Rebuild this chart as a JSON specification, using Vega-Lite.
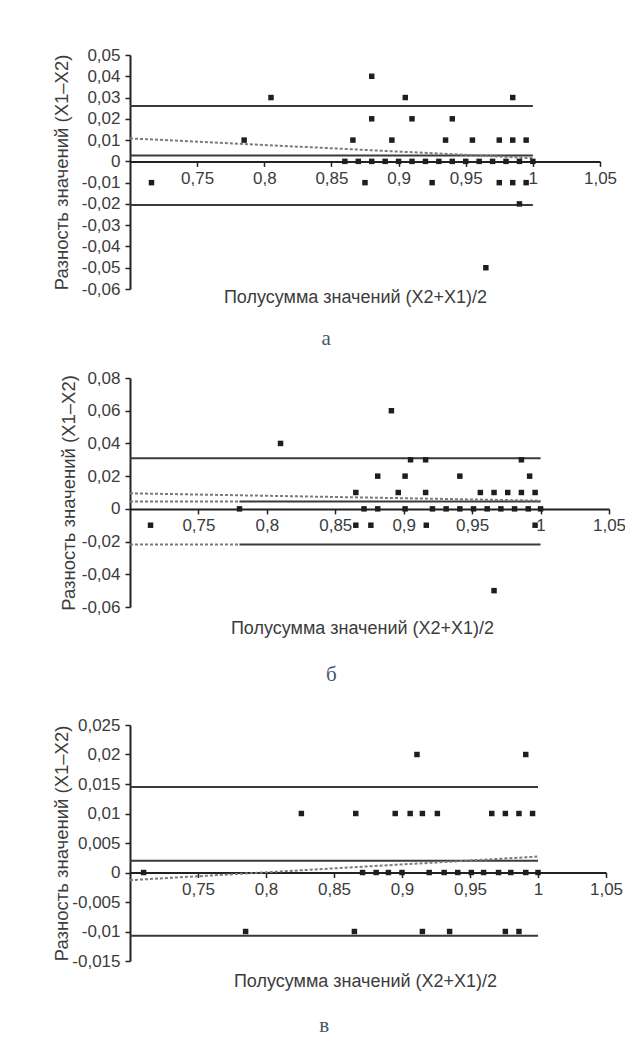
{
  "$schema": "https://vega.github.io/schema/vega-lite/v6.json",
  "background": "white",
  "padding": {"left": 51, "top": 46, "right": 2, "bottom": 5},
  "config": {"view": {"stroke": null}, "font": "Liberation Sans"},
  "spacing": 31,
  "vconcat": [
    {
      "spacing": 20,
      "vconcat": [
        {
          "width": 470,
          "height": 234,
          "title": {"text": "а", "orient": "bottom", "anchor": "middle", "frame": "bounds", "offset": 22, "dx": -8, "font": "Liberation Serif", "fontSize": 21, "fontWeight": "normal", "color": "#45566a"},
          "encoding": {
            "x": {"field": "x", "type": "quantitative", "scale": {"domain": [0.7, 1.05], "nice": false, "zero": false},
              "axis": {"orient": "bottom", "offset": -127.6, "values": [0.75, 0.8, 0.85, 0.9, 0.95, 1, 1.05], "labelExpr": "replace(replace(format(datum.value,'~g'),'.',','),'\u2212','-')", "grid": false, "domainColor": "#222", "domainWidth": 2, "tickColor": "#222", "tickWidth": 1.5, "tickSize": 5, "labelPadding": 4, "labelFontSize": 17, "labelColor": "#3c3c3c", "labelFlush": false, "labelFont": "Liberation Sans", "title": "Полусумма значений (X2+X1)/2", "titleFont": "Liberation Sans", "titleFontSize": 18, "titleFontWeight": "normal", "titleColor": "#3c3c3c", "titleX": 225, "titleY": 135.6, "titleBaseline": "middle", "titleAlign": "center"}},
            "y": {"field": "y", "type": "quantitative", "scale": {"domain": [-0.06, 0.05], "nice": false, "zero": false},
              "axis": {"values": [-0.06, -0.05, -0.04, -0.03, -0.02, -0.01, 0, 0.01, 0.02, 0.03, 0.04, 0.05], "labelExpr": "replace(replace(format(datum.value,'~g'),'.',','),'\u2212','-')", "grid": false, "domainColor": "#222", "domainWidth": 2, "tickColor": "#222", "tickWidth": 1.5, "tickSize": 5, "labelPadding": 5, "labelFontSize": 17, "labelColor": "#3c3c3c", "labelFont": "Liberation Sans", "title": "Разность значений (X1–X2)", "titleFont": "Liberation Sans", "titleFontSize": 18.5, "titleFontWeight": "normal", "titleColor": "#3c3c3c", "titlePadding": 0, "minExtent": 59, "maxExtent": 59}}
          },
          "layer": [
            {"data": {"values": [
              {"x": 0.7, "x2": 1.0, "y": 0.026, "y2": 0.026},
              {"x": 0.7, "x2": 1.0, "y": 0.0028, "y2": 0.0028},
              {"x": 0.7, "x2": 1.0, "y": -0.0205, "y2": -0.0205}
            ]}, "mark": {"type": "rule", "strokeWidth": 2, "color": "#3a3a3a"}, "encoding": {"x2": {"field": "x2"}, "y2": {"field": "y2"}}},
            {"data": {"values": [
              {"x": 0.7, "x2": 1.0, "y": 0.0108, "y2": 0.0015}
            ]}, "mark": {"type": "rule", "strokeWidth": 2, "strokeDash": [3, 2], "color": "#7a7a7a"}, "encoding": {"x2": {"field": "x2"}, "y2": {"field": "y2"}}},
            {"data": {"values": [
              {"x": 0.716, "y": -0.01}, {"x": 0.785, "y": 0.01}, {"x": 0.805, "y": 0.03}, {"x": 0.866, "y": 0.01}, {"x": 0.875, "y": -0.01},
              {"x": 0.88, "y": 0.04}, {"x": 0.88, "y": 0.02}, {"x": 0.895, "y": 0.01}, {"x": 0.905, "y": 0.03}, {"x": 0.91, "y": 0.02},
              {"x": 0.925, "y": -0.01}, {"x": 0.935, "y": 0.01}, {"x": 0.94, "y": 0.02}, {"x": 0.955, "y": 0.01}, {"x": 0.965, "y": -0.05},
              {"x": 0.975, "y": 0.01}, {"x": 0.975, "y": -0.01}, {"x": 0.985, "y": 0.03}, {"x": 0.985, "y": 0.01}, {"x": 0.985, "y": -0.01},
              {"x": 0.99, "y": -0.02}, {"x": 0.995, "y": 0.01}, {"x": 0.995, "y": -0.01},
              {"x": 0.86, "y": 0}, {"x": 0.87, "y": 0}, {"x": 0.88, "y": 0}, {"x": 0.89, "y": 0}, {"x": 0.90, "y": 0},
              {"x": 0.91, "y": 0}, {"x": 0.92, "y": 0}, {"x": 0.93, "y": 0}, {"x": 0.94, "y": 0}, {"x": 0.95, "y": 0},
              {"x": 0.96, "y": 0}, {"x": 0.97, "y": 0}, {"x": 0.98, "y": 0}, {"x": 0.99, "y": 0}, {"x": 1.0, "y": 0}
            ]}, "mark": {"type": "point", "shape": "square", "filled": true, "size": 30, "color": "#1e1e1e", "opacity": 1}}
          ]
        },
        {
          "width": 479,
          "height": 229,
          "title": {"text": "б", "orient": "bottom", "anchor": "middle", "frame": "bounds", "offset": 26, "dx": -11, "font": "Liberation Serif", "fontSize": 21, "fontWeight": "normal", "color": "#45566a"},
          "encoding": {
            "x": {"field": "x", "type": "quantitative", "scale": {"domain": [0.7, 1.05], "nice": false, "zero": false},
              "axis": {"orient": "bottom", "offset": -98.1, "values": [0.75, 0.8, 0.85, 0.9, 0.95, 1, 1.05], "labelExpr": "replace(replace(format(datum.value,'~g'),'.',','),'\u2212','-')", "grid": false, "domainColor": "#222", "domainWidth": 2, "tickColor": "#222", "tickWidth": 1.5, "tickSize": 5, "labelPadding": 4, "labelFontSize": 17, "labelColor": "#3c3c3c", "labelFlush": false, "labelFont": "Liberation Sans", "title": "Полусумма значений (X2+X1)/2", "titleFont": "Liberation Sans", "titleFontSize": 18, "titleFontWeight": "normal", "titleColor": "#3c3c3c", "titleX": 232, "titleY": 120, "titleBaseline": "middle", "titleAlign": "center"}},
            "y": {"field": "y", "type": "quantitative", "scale": {"domain": [-0.06, 0.08], "nice": false, "zero": false},
              "axis": {"values": [-0.06, -0.04, -0.02, 0, 0.02, 0.04, 0.06, 0.08], "labelExpr": "replace(replace(format(datum.value,'~g'),'.',','),'\u2212','-')", "grid": false, "domainColor": "#222", "domainWidth": 2, "tickColor": "#222", "tickWidth": 1.5, "tickSize": 5, "labelPadding": 5, "labelFontSize": 17, "labelColor": "#3c3c3c", "labelFont": "Liberation Sans", "title": "Разность значений (X1–X2)", "titleFont": "Liberation Sans", "titleFontSize": 18.5, "titleFontWeight": "normal", "titleColor": "#3c3c3c", "titlePadding": 0, "minExtent": 52, "maxExtent": 52}}
          },
          "layer": [
            {"data": {"values": [
              {"x": 0.7, "x2": 1.0, "y": 0.031, "y2": 0.031},
              {"x": 0.78, "x2": 1.0, "y": 0.0045, "y2": 0.0045},
              {"x": 0.78, "x2": 1.0, "y": -0.0218, "y2": -0.0218}
            ]}, "mark": {"type": "rule", "strokeWidth": 2, "color": "#3a3a3a"}, "encoding": {"x2": {"field": "x2"}, "y2": {"field": "y2"}}},
            {"data": {"values": [
              {"x": 0.7, "x2": 1.0, "y": 0.0095, "y2": 0.005},
              {"x": 0.7, "x2": 0.78, "y": 0.0045, "y2": 0.0045},
              {"x": 0.7, "x2": 0.78, "y": -0.0218, "y2": -0.0218}
            ]}, "mark": {"type": "rule", "strokeWidth": 2, "strokeDash": [3, 2], "color": "#7a7a7a"}, "encoding": {"x2": {"field": "x2"}, "y2": {"field": "y2"}}},
            {"data": {"values": [
              {"x": 0.715, "y": -0.01}, {"x": 0.865, "y": -0.01}, {"x": 0.876, "y": -0.01}, {"x": 0.9165, "y": -0.01}, {"x": 0.996, "y": -0.01},
              {"x": 0.78, "y": 0}, {"x": 0.871, "y": 0}, {"x": 0.881, "y": 0}, {"x": 0.901, "y": 0}, {"x": 0.921, "y": 0}, {"x": 0.931, "y": 0},
              {"x": 0.941, "y": 0}, {"x": 0.951, "y": 0}, {"x": 0.961, "y": 0}, {"x": 0.971, "y": 0}, {"x": 0.981, "y": 0}, {"x": 0.991, "y": 0}, {"x": 1.0, "y": 0},
              {"x": 0.865, "y": 0.01}, {"x": 0.896, "y": 0.01}, {"x": 0.916, "y": 0.01}, {"x": 0.956, "y": 0.01}, {"x": 0.966, "y": 0.01}, {"x": 0.976, "y": 0.01}, {"x": 0.986, "y": 0.01}, {"x": 0.996, "y": 0.01},
              {"x": 0.881, "y": 0.02}, {"x": 0.901, "y": 0.02}, {"x": 0.941, "y": 0.02}, {"x": 0.992, "y": 0.02},
              {"x": 0.905, "y": 0.03}, {"x": 0.916, "y": 0.03}, {"x": 0.986, "y": 0.03},
              {"x": 0.81, "y": 0.04}, {"x": 0.891, "y": 0.06}, {"x": 0.966, "y": -0.05}
            ]}, "mark": {"type": "point", "shape": "square", "filled": true, "size": 30, "color": "#1e1e1e", "opacity": 1}}
          ]
        }
      ]
    },
    {
      "width": 476,
      "height": 236,
      "title": {"text": "в", "orient": "bottom", "anchor": "middle", "frame": "bounds", "offset": 25, "dx": -13, "font": "Liberation Serif", "fontSize": 21, "fontWeight": "normal", "color": "#45566a"},
      "encoding": {
        "x": {"field": "x", "type": "quantitative", "scale": {"domain": [0.7, 1.05], "nice": false, "zero": false},
          "axis": {"orient": "bottom", "offset": -88.5, "values": [0.75, 0.8, 0.85, 0.9, 0.95, 1, 1.05], "labelExpr": "replace(replace(format(datum.value,'~g'),'.',','),'\u2212','-')", "grid": false, "domainColor": "#222", "domainWidth": 2, "tickColor": "#222", "tickWidth": 1.5, "tickSize": 5, "labelPadding": 4, "labelFontSize": 17, "labelColor": "#3c3c3c", "labelFlush": false, "labelFont": "Liberation Sans", "title": "Полусумма значений (X2+X1)/2", "titleFont": "Liberation Sans", "titleFontSize": 18, "titleFontWeight": "normal", "titleColor": "#3c3c3c", "titleX": 235, "titleY": 108.5, "titleBaseline": "middle", "titleAlign": "center"}},
        "y": {"field": "y", "type": "quantitative", "scale": {"domain": [-0.015, 0.025], "nice": false, "zero": false},
          "axis": {"values": [-0.015, -0.01, -0.005, 0, 0.005, 0.01, 0.015, 0.02, 0.025], "labelExpr": "replace(replace(format(datum.value,'~g'),'.',','),'\u2212','-')", "grid": false, "domainColor": "#222", "domainWidth": 2, "tickColor": "#222", "tickWidth": 1.5, "tickSize": 5, "labelPadding": 5, "labelFontSize": 17, "labelColor": "#3c3c3c", "labelFont": "Liberation Sans", "title": "Разность значений (X1–X2)", "titleFont": "Liberation Sans", "titleFontSize": 18.5, "titleFontWeight": "normal", "titleColor": "#3c3c3c", "titlePadding": 0, "minExtent": 59, "maxExtent": 59}}
      },
      "layer": [
        {"data": {"values": [
          {"x": 0.7, "x2": 1.0, "y": 0.0145, "y2": 0.0145},
          {"x": 0.7, "x2": 1.0, "y": 0.002, "y2": 0.002},
          {"x": 0.7, "x2": 1.0, "y": -0.0107, "y2": -0.0107}
        ]}, "mark": {"type": "rule", "strokeWidth": 2, "color": "#3a3a3a"}, "encoding": {"x2": {"field": "x2"}, "y2": {"field": "y2"}}},
        {"data": {"values": [
          {"x": 0.7, "x2": 1.0, "y": -0.0013, "y2": 0.0027}
        ]}, "mark": {"type": "rule", "strokeWidth": 2, "strokeDash": [3, 2], "color": "#7a7a7a"}, "encoding": {"x2": {"field": "x2"}, "y2": {"field": "y2"}}},
        {"data": {"values": [
          {"x": 0.911, "y": 0.02}, {"x": 0.991, "y": 0.02},
          {"x": 0.826, "y": 0.01}, {"x": 0.866, "y": 0.01}, {"x": 0.895, "y": 0.01}, {"x": 0.906, "y": 0.01}, {"x": 0.915, "y": 0.01},
          {"x": 0.926, "y": 0.01}, {"x": 0.966, "y": 0.01}, {"x": 0.976, "y": 0.01}, {"x": 0.986, "y": 0.01}, {"x": 0.996, "y": 0.01},
          {"x": 0.71, "y": 0}, {"x": 0.871, "y": 0}, {"x": 0.881, "y": 0}, {"x": 0.89, "y": 0}, {"x": 0.90, "y": 0}, {"x": 0.92, "y": 0},
          {"x": 0.931, "y": 0}, {"x": 0.941, "y": 0}, {"x": 0.951, "y": 0}, {"x": 0.96, "y": 0}, {"x": 0.971, "y": 0}, {"x": 0.98, "y": 0},
          {"x": 0.991, "y": 0}, {"x": 1.0, "y": 0},
          {"x": 0.785, "y": -0.01}, {"x": 0.865, "y": -0.01}, {"x": 0.915, "y": -0.01}, {"x": 0.935, "y": -0.01}, {"x": 0.976, "y": -0.01}, {"x": 0.986, "y": -0.01}
        ]}, "mark": {"type": "point", "shape": "square", "filled": true, "size": 30, "color": "#1e1e1e", "opacity": 1}}
      ]
    }
  ]
}
